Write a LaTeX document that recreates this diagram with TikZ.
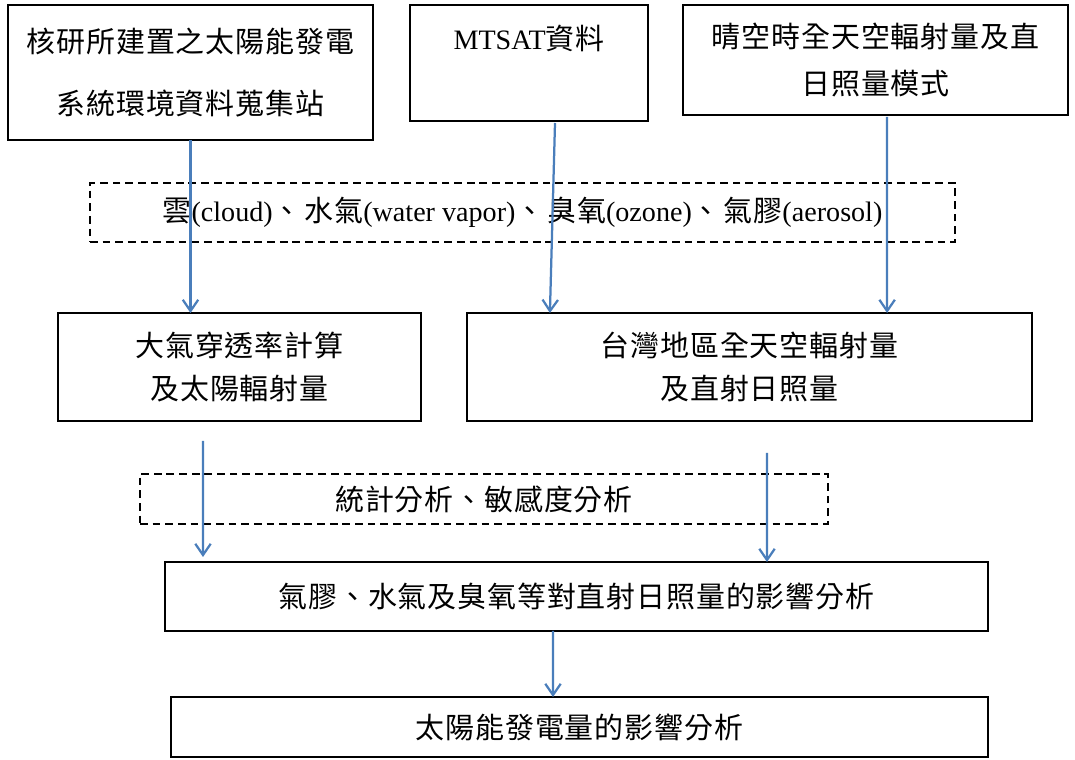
\documentclass[tikz,border=0pt]{standalone}
\usepackage{fontspec}
\setmainfont{Liberation Serif}
\newfontfamily\cjk[Scale=1.03, LetterSpace=3]{Noto Sans CJK TC}
\newcommand{\zh}[1]{{\cjk #1}}
\usepackage{xcolor}
\definecolor{FlowBlue}{RGB}{74,126,187}
\usetikzlibrary{arrows.meta}

\tikzset{
  box/.style={draw, rectangle, line width=1.3pt, outer sep=0pt, align=center,
    font=\fontsize{20}{24}\selectfont},
  dashbox/.style={box, dash pattern=on 5.5pt off 3.5pt},
  flow/.style={FlowBlue, line width=1.6pt, -{Straight Barb[length=8pt, width=11pt]}}
}

\begin{document}
\begin{tikzpicture}
\useasboundingbox (0, 0) rectangle (26.875, 19);

% data sources
\node[box, minimum width=9.125cm, minimum height=3.375cm] (site) at (4.7625, 17.1875)
  {\zh{核研所建置之太陽能發電}\\[20pt]\zh{系統環境資料蒐集站}};
\node[box, minimum width=5.95cm, minimum height=2.9cm] (mtsat) at (13.225, 17.425)
  {MTSAT\zh{資料}\\[12pt]\mbox{}};
\node[box, minimum width=9.625cm, minimum height=2.75cm] (model) at (21.8875, 17.5)
  {\zh{晴空時全天空輻射量及直}\\[10pt]\zh{日照量模式}};

\node[dashbox, minimum width=21.625cm, minimum height=1.475cm] (factors) at (13.0625, 13.6875)
  {\zh{雲}(cloud)\zh{、}\hspace{2pt}\zh{水氣}(water vapor)\zh{、}\hspace{2pt}\zh{臭氧}(ozone)\zh{、}\hspace{2pt}\zh{氣膠}(aerosol)};

% calculations
\node[box, minimum width=9.075cm, minimum height=2.7cm] (calc) at (5.9875, 9.825)
  {\zh{大氣穿透率計算}\\[7pt]\zh{及太陽輻射量}};
\node[box, minimum width=14.125cm, minimum height=2.7cm] (sky) at (18.7375, 9.825)
  {\zh{台灣地區全天空輻射量}\\[7pt]\zh{及直射日照量}};

\node[dashbox, minimum width=17.2cm, minimum height=1.25cm] (stats) at (12.1, 6.525)
  {\zh{統計分析、敏感度分析}};

% results
\node[box, minimum width=20.575cm, minimum height=1.725cm] (effect) at (14.4125, 4.0875)
  {\zh{氣膠、水氣及臭氧等對直射日照量的影響分析}};
\node[box, minimum width=20.425cm, minimum height=1.5cm] (power) at (14.4875, 0.825)
  {\zh{太陽能發電量的影響分析}};

\draw[flow] (site.south) -- (site.south |- calc.north);
\draw[flow] ([xshift=0.65cm, yshift=-0.05cm]mtsat.south) -- ([xshift=-4.99cm]sky.north);
\draw[flow] ([xshift=0.29cm, yshift=-0.05cm]model.south) -- ([xshift=3.44cm]sky.north);
\draw[flow] ([xshift=-0.9125cm, yshift=-0.5cm]calc.south) -- ([xshift=-9.3375cm, yshift=0.125cm]effect.north);
\draw[flow] ([xshift=0.4375cm, yshift=-0.8cm]sky.south) -- ([xshift=4.7625cm]effect.north);
\draw[flow] ([xshift=-0.5875cm]effect.south) -- ([xshift=-0.6625cm]power.north);
\end{tikzpicture}
\end{document}
